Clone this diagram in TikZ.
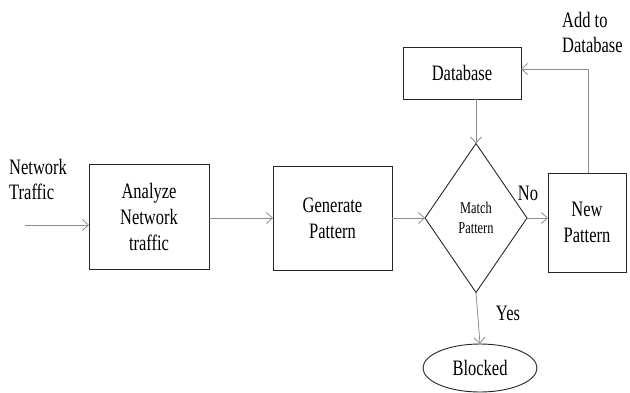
\documentclass[tikz,border=0pt]{standalone}
\usepackage{fontspec}
\setmainfont{Liberation Serif}[FakeStretch=0.75]
\usepackage{tikz}
\usetikzlibrary{arrows.meta,shapes.geometric}

\tikzset{
  blk/.style={draw=black!85, line width=0.9pt, inner sep=0pt, outer sep=0pt, align=center, font=\fontsize{22}{26}\selectfont},
  flow/.style={draw=black!45, line width=0.8pt, -{Straight Barb[length=6pt,width=11pt]}},
  lbl/.style={font=\fontsize{22}{25}\selectfont, inner sep=0pt}
}

\begin{document}
\begin{tikzpicture}[x=1pt,y=-1pt]

\useasboundingbox (0,0) rectangle (630,392);

\coordinate (in) at (25,225);
\coordinate (corner) at (588,69);

\node[blk, minimum width=120pt, minimum height=105pt] (analyze) at (149,217) {Analyze\\Network\\traffic};
\node[blk, minimum width=119pt, minimum height=104pt] (generate) at (332.5,218) {Generate\\Pattern};
\node[blk, diamond, minimum width=102pt, minimum height=149pt, font=\fontsize{16.5}{20}\selectfont] (match) at (476,218) {Match\\Pattern};
\node[blk, minimum width=78pt, minimum height=99pt] (newpat) at (587,222.5) {New\\Pattern};
\node[blk, minimum width=118pt, minimum height=52pt] (db) at (462,73) {Database};
\node[blk, ellipse, minimum width=114pt, minimum height=48pt] (blocked) at (480,368) {Blocked};

\node[lbl, align=left, anchor=west] (nettraffic) at (9,179) {Network\\Traffic};
\node[lbl, align=left, anchor=west] (addto) at (562,32) {Add to\\Database};
\node[lbl] (no) at (528,193) {No};
\node[lbl] (yes) at (508,313) {Yes};

\draw[flow] (in) -- (analyze.west |- in);
\draw[flow] (analyze.east |- generate.west) -- (generate.west);
\draw[flow] (generate.east) -- (match.west);
\draw[flow] (match.east) -- (newpat.west |- match.east);
\draw[flow] (db.south -| match.north) -- (match.north);
\draw[flow] (match.south) -- (blocked.north);
\draw[flow] (newpat.north -| corner) |- (db.east |- corner);

\end{tikzpicture}
\end{document}
